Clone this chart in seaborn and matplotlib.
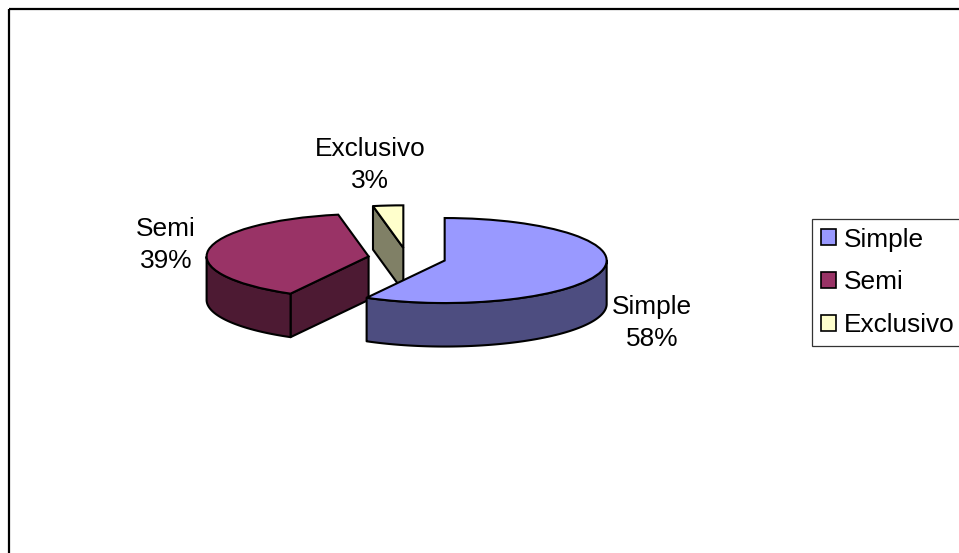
import numpy as np
import matplotlib
matplotlib.use("Agg")
import matplotlib.pyplot as plt
from matplotlib.patches import Polygon, Patch, Rectangle
from matplotlib.transforms import Affine2D
import seaborn as sns

categories = ["Simple", "Semi", "Exclusivo"]
shares = [58, 39, 3]
colors = ["#9999FF", "#993366", "#FFFFCC"]

W, H = 959, 553
RX, RY = 162.0, 42.5      # ellipse radii, pixels
CX, CY = 407.0, 258.0     # pie centre, pixels
DEPTH = 43.5 / RY         # extrusion in data units
EXPLODE = 0.24
FONT = 18.9

sns.set_theme(style="white")
plt.rcParams["font.family"] = ["Liberation Sans", "DejaVu Sans"]
palette = sns.color_palette(colors)
shade = [tuple(c * 0.5 for c in col) for col in palette]

fig = plt.figure(figsize=(W / 100, H / 100), dpi=100, facecolor="white")
ax = fig.add_axes([0, 0, 1, 1])
wedges, _ = ax.pie(shares, colors=palette, startangle=90, counterclock=False,
                   explode=[EXPLODE] * len(shares),
                   wedgeprops=dict(edgecolor="black", linewidth=1.5, joinstyle="miter"))
ax.set_aspect("auto")
ax.set_xlim(-CX / RX, (W - CX) / RX)
ax.set_ylim(-(H - CY) / RY, CY / RY)
ax.axis("off")

px = Affine2D().scale(1, -1).translate(0, H)  # pixel coordinates, y down
LW = 1.5


def face(points, color, z):
    ax.add_patch(Polygon(points, closed=True, facecolor=color, edgecolor="black",
                         linewidth=LW, joinstyle="round", zorder=z))


for i in reversed(range(len(wedges))):
    w = wedges[i]
    z = 2 * (len(wedges) - i)
    cx, cy = w.center
    r = w.r
    t1, t2 = w.theta1, w.theta2

    def rim(t):
        a = np.radians(t)
        return np.array([cx + r * np.cos(a), cy + r * np.sin(a)])

    # cut faces that look toward the viewer
    c = np.array([cx, cy])
    d = np.array([0, DEPTH])
    if np.cos(np.radians(t2)) < -1e-6:
        p = rim(t2)
        face([c, p, p - d, c - d], shade[i], z)
    if np.cos(np.radians(t1)) > 1e-6:
        p = rim(t1)
        face([c, p, p - d, c - d], shade[i], z)
    # outer rim, front half only
    th = np.linspace(t1, t2, 400)
    th = th[np.sin(np.radians(th)) <= 0]
    if th.size > 1:
        top = rim(th).T
        bottom = top[::-1] - d
        face(np.vstack([top, bottom]), shade[i], z)
    w.set_zorder(z + 1)

labels = [f"{n}\n{v}%" for n, v in zip(categories, shares)]
label_pos = [(652, 323), (166, 245), (370, 165)]
for s, (x, y) in zip(labels, label_pos):
    ax.text(x, y, s, transform=px, ha="center", va="center", fontsize=FONT,
            color="black", linespacing=1.42, zorder=20)

# outer chart border, running off the right and bottom edges
fig.add_artist(Rectangle((8.5, 9), 1000, 600, transform=px, facecolor="none",
                         edgecolor="black", linewidth=1.6))

handles = [Patch(facecolor=c, edgecolor="black", linewidth=1.2) for c in palette]
leg = ax.legend(handles, categories, loc="upper left",
                bbox_to_anchor=(812 / W, 1 - 219 / H), bbox_transform=fig.transFigure,
                fontsize=FONT, frameon=True, fancybox=False, framealpha=1,
                edgecolor="#333333", borderaxespad=0, borderpad=0.33,
                handlelength=0.57, handleheight=0.57, handletextpad=0.3,
                labelspacing=0.71, labelcolor="black")
leg.get_frame().set_linewidth(0.9)
leg.set_zorder(30)

fig.savefig("out.png", dpi=100, facecolor="white")
